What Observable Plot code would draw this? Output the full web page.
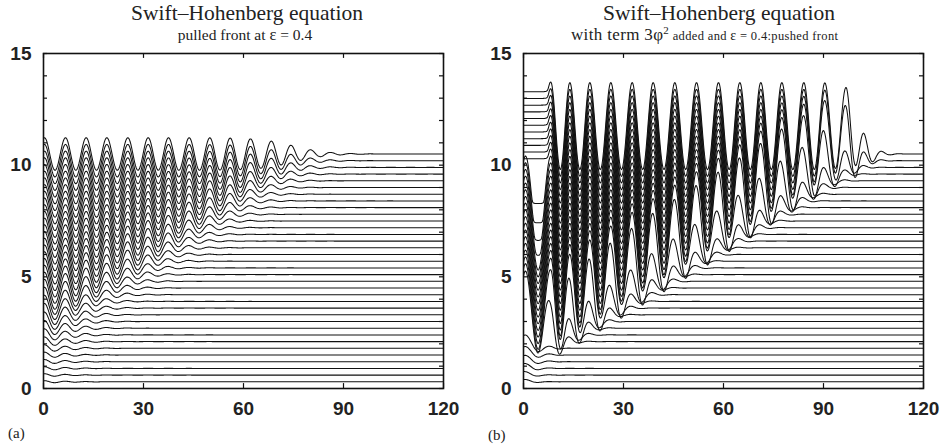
<!DOCTYPE html>
<html><head><meta charset="utf-8">
<script src="https://cdn.jsdelivr.net/npm/d3@7"></script>
<script src="https://cdn.jsdelivr.net/npm/@observablehq/plot@0.6"></script>
<style>
body{margin:0;background:#fff;}
#wrap{width:942px;height:448px;display:flex;}
#wrap svg{display:block;}
</style></head><body>
<div id="wrap"><div id="pa"></div><div id="pb"></div></div>
<script>
// ---- axes ----
const xTicks = [0, 30, 60, 90, 120];
const yLabelTicks = [0, 5, 10, 15];
const yMinorTicks = [0,1,2,3,4,5,6,7,8,9,10,11,12,13,14,15];

// ---- snapshot offsets (one line per time step) ----
const baselines = [0.3,0.6,0.9,1.2,1.5,1.8,2.1,2.4,2.7,3.0,3.3,3.6,3.9,4.2,4.5,4.8,5.1,5.4,5.7,6.0,
                   6.3,6.6,6.9,7.2,7.5,7.8,8.1,8.4,8.7,9.0,9.3,9.6,9.9,10.2,10.5];

// ---- panel (a): pulled front ----
const peaksA = [0.3, 6.6, 12.8, 19.0, 25.3, 31.4, 37.5, 43.7, 49.9, 56.0, 62.1, 68.4, 74.3, 80.2, 86.2];
const ampA = [0.08,0.10,0.12,0.15,0.19,0.24,0.30,0.38,0.47,0.56,0.63,0.68,0.71,0.73,0.73,0.73,0.73,0.73,
              0.73,0.73,0.73,0.73,0.73,0.73,0.73,0.73,0.73,0.73,0.73,0.73,0.73,0.73,0.73,0.73,0.73];
const frontA = [3,3,3.5,3.5,4,4,4.5,5,5.5,6,7.5,9,11,14,17,20,23,26,29,31.5,34.5,37.5,40,43,46,49,52,55,
                57.5,60.5,63.5,66.5,69.5,72,75];
const frontWidthA = 5;

// ---- panel (b): pushed front ----
const peaksB = [0.6, 8.2, 13.9, 19.9, 26.2, 32.6, 38.9, 45.4, 51.9, 58.5, 64.9, 71.2, 77.5, 84.1, 90.4, 96.8, 102.3, 107.6];
const gainB = [0.04,0.06,0.08,0.10,0.13,0.20,1,1,1,1,1,1,1,1,1,1,1,1,1,1,1,1,1,1,1,1,1,1,1,1,1,1,1,1,1];
const frontB = [2,2,2.5,3,3.5,4,7.8,11.1,14.4,17.7,21.0,24.3,27.6,30.9,34.2,37.5,40.8,44.1,47.4,50.7,
                54.0,57.3,60.6,63.9,67.2,70.5,73.8,77.1,80.4,83.7,87.0,90.3,94.0,97.8,100.2];
// level the left region (x < second peak) is filled up to; null = not filled
const floorB = [null,null,null,null,null,null,null,null,null,null,null,null,null,null,null,null,null,null,
                null,null,-0.4,0.0,0.5,1.07,2.78,2.78,2.78,2.78,2.78,2.78,2.78,2.78,2.78,2.78,2.78];
const meanB = 1.25, ampB = 1.95, uniformB = 2.78;

// ---- helpers ----
const logistic = t => 1 / (1 + Math.exp(t));
function phase(peaks, x) {
  const n = peaks.length;
  if (x <= peaks[0]) return 2 * Math.PI * (x - peaks[0]) / (peaks[1] - peaks[0]);
  for (let i = 0; i < n - 1; i++)
    if (x <= peaks[i + 1]) return 2 * Math.PI * (i + (x - peaks[i]) / (peaks[i + 1] - peaks[i]));
  const d = peaks[n - 1] - peaks[n - 2];
  return 2 * Math.PI * (n - 1 + (x - peaks[n - 1]) / d);
}
const smax = (a, b) => (a + b + Math.sqrt((a - b) ** 2 + 0.09)) / 2;
const xs = d3.range(0, 120.0001, 0.2);
const firstTroughB = (peaksB[0] + peaksB[1]) / 2;

const rowsA = [], rowsB = [];
baselines.forEach((b, k) => {
  for (const x of xs) {
    const env = ampA[k] * logistic((x - frontA[k]) / frontWidthA);
    rowsA.push({line: k, x, y: b + env * Math.cos(phase(peaksA, x))});
  }
  for (const x of xs) {
    const F = frontB[k];
    const sm = logistic((x - F) / 0.8), sa = logistic((x - F - 1.3) / 2.2);
    const fl = floorB[k];
    let c = Math.cos(phase(peaksB, x));
    if (fl === uniformB && x < firstTroughB) c = -1;
    let p = gainB[k] * (meanB * sm + ampB * sa * c);
    if (fl !== null) {
      const w = logistic((x - peaksB[1]) / 0.25);
      p = w * smax(fl, p) + (1 - w) * p;
    }
    rowsB.push({line: k, x, y: b + p});
  }
});

const FONT_SANS = "'Liberation Sans', Arial, sans-serif";
const FONT_SERIF = "'Liberation Serif', 'Times New Roman', serif";

function panel(rows, ml, mr) {
  return Plot.plot({
    width: 471, height: 448,
    marginLeft: ml, marginRight: mr, marginTop: 53, marginBottom: 60,
    x: {domain: [0, 120]},
    y: {domain: [0, 15]},
    style: {background: "#fff", color: "#222"},
    marks: [
      Plot.line(rows, {x: "x", y: "y", z: "line", stroke: "#111", strokeWidth: 1.05}),
      Plot.frame({stroke: "#111", strokeWidth: 1.6}),
      Plot.ruleX(xTicks, {x: d => d, y1: 0, y2: 0.22, stroke: "#111", strokeWidth: 1.2}),
      Plot.ruleX(xTicks, {x: d => d, y1: 15, y2: 14.78, stroke: "#111", strokeWidth: 1.2}),
      Plot.ruleY(yMinorTicks, {y: d => d, x1: 0, x2: 1.2, stroke: "#111", strokeWidth: 1.2}),
      Plot.ruleY(yMinorTicks, {y: d => d, x1: 120, x2: 118.8, stroke: "#111", strokeWidth: 1.2}),
      Plot.axisX(xTicks, {anchor: "bottom", tickSize: 0, tickPadding: 13, label: null,
        fontSize: 19, fontWeight: "bold", fontFamily: FONT_SANS}),
      Plot.axisY(yLabelTicks, {anchor: "left", tickSize: 0, tickPadding: 12, label: null,
        fontSize: 19, fontWeight: "bold", fontFamily: FONT_SANS})
    ]
  });
}

const svgA = panel(rowsA, 43, 28);
const svgB = panel(rowsB, 52, 19);
document.getElementById("pa").appendChild(svgA);
document.getElementById("pb").appendChild(svgB);

function addText(svg, x, y, parts, size, anchor, length) {
  const t = d3.select(svg).append("text")
    .attr("x", x).attr("y", y).attr("text-anchor", anchor)
    .attr("font-family", FONT_SERIF).attr("font-size", size).attr("font-weight", "normal")
    .attr("fill", "#222");
  if (length) t.attr("textLength", length).attr("lengthAdjust", "spacing");
  for (const p of parts) {
    const s = t.append("tspan").text(p.t);
    if (p.size) s.attr("font-size", p.size);
    if (p.dy) s.attr("dy", p.dy);
  }
  return t;
}
// titles
addText(svgA, 247, 19.5, [{t: "Swift–Hohenberg equation"}], 21.5, "middle");
addText(svgA, 245, 39.5, [{t: "pulled front at "}, {t: "ε", size: 16.5}, {t: " = 0.4"}], 15.5, "middle");
addText(svgB, 248, 19.5, [{t: "Swift–Hohenberg equation"}], 21.5, "middle");
addText(svgB, 233.5, 39.5, [
  {t: "with term 3φ", size: 17},
  {t: "2", size: 11, dy: -5.5},
  {t: " added and ", size: 12.5, dy: 5.5},
  {t: "ε", size: 14},
  {t: " = 0.4:pushed front", size: 12.5}
], 12.5, "middle", 267);
addText(svgA, 8, 438, [{t: "(a)"}], 15, "start");
addText(svgB, 17, 440, [{t: "(b)"}], 15, "start");
</script>
</body></html>
